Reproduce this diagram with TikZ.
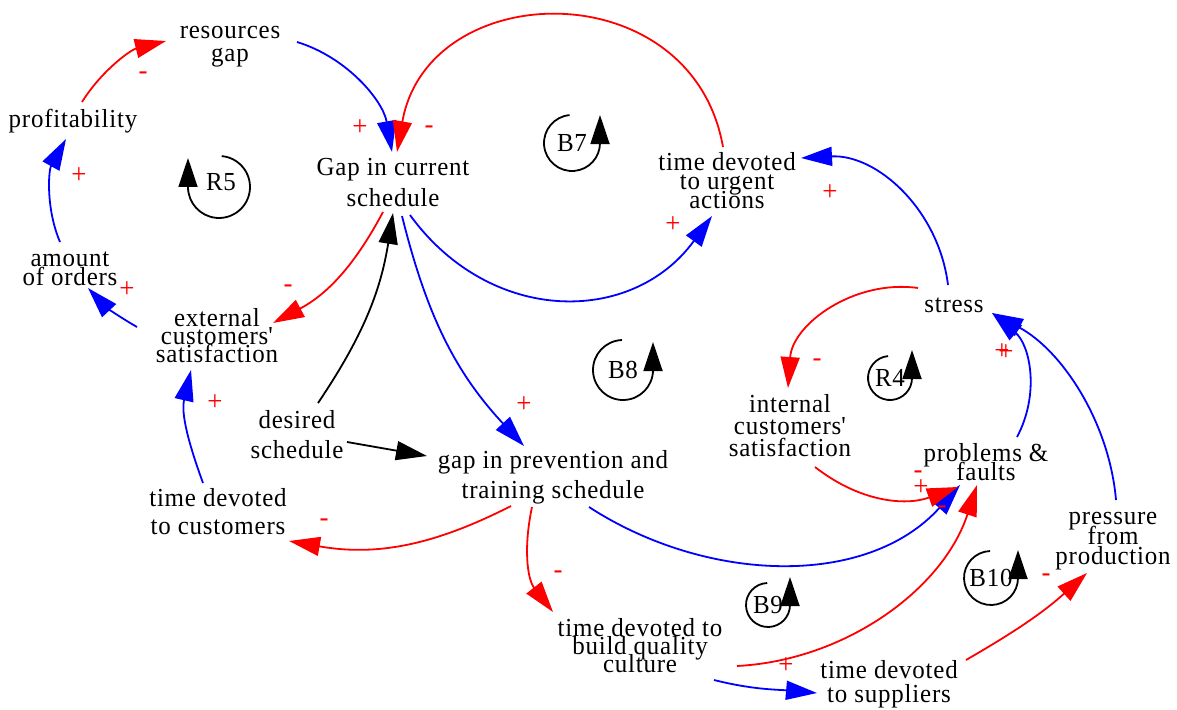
\documentclass[tikz,border=0pt]{standalone}
\usepackage{fontspec}
\setmainfont{Liberation Serif}[LetterSpace=3,FakeStretch=0.96]
\usetikzlibrary{arrows.meta}
\definecolor{lnkred}{RGB}{255,0,0}
\definecolor{lnkblue}{RGB}{0,0,255}
% variable names: fixed size, tight (overlapping) line spacing
\newcommand\setvarfont[1]{\fontsize{26}{#1}\selectfont\lineskiplimit=-100pt\lineskip=0pt}
\tikzset{
  var/.style={inner sep=0pt, align=center, font={\setvarfont{#1}}},
  var/.default=20,
  sign/.style={inner sep=0pt, text=lnkred, font={\fontsize{28}{28}\selectfont}},
  tipped/.style={line width=1.8pt, -{Triangle[length=31pt,width=19pt]}},
  redlink/.style={tipped, lnkred},
  bluelink/.style={tipped, lnkblue},
  blacklink/.style={tipped, black},
  looparrow/.style={line width=1.8pt, black, -{Triangle[length=29pt,width=19pt]}}
}
\begin{document}
\begin{tikzpicture}[x=1pt,y=1pt]
\useasboundingbox (0,-709) rectangle (1177,0);

% ---------- variables ----------
\node[var=23] (resgap) at (230,-47) {resources\\gap};
\node[var] (profit) at (73,-121) {profitability};
\node[var=19] (amount) at (70,-269) {amount\\of orders};
\node[var=31] (gapcur) at (393,-183) {Gap in current\\schedule};
\node[var=19] (urgent) at (727,-181) {time devoted\\to urgent\\actions};
\node[var=18] (extsat) at (217,-336) {external\\customers\textquotesingle\\satisfaction};
\node[var] (stress) at (954,-305) {stress};
\node[var=22] (intsat) at (790,-426) {internal\\customers\textquotesingle\\satisfaction};
\node[var=30] (desired) at (297,-435) {desired\\schedule};
\node[var=30] (gapprev) at (553,-477) {gap in prevention and\\training schedule};
\node[var=19] (problems) at (986,-462) {problems \&\\faults};
\node[var=28] (custtime) at (218,-512) {time devoted\\to customers};
\node[var=20] (pressure) at (1113,-541) {pressure\\from\\production};
\node[var=18] (culture) at (640,-646) {time devoted to\\build quality\\culture};
\node[var=24] (suppliers) at (889,-684) {time devoted\\to suppliers};

% ---------- loop markers ----------
\node[var] (r5) at (221,-182) {R5};
\node[var] (b7) at (572,-143) {B7};
\node[var] (b8) at (623,-370) {B8};
\node[var] (r4) at (890,-378) {R4};
\node[var] (b9) at (768,-605) {B9};
\node[var] (b10) at (991,-578) {B10};

\draw[looparrow] ([shift={(0.7,25.9)}]r5.center) arc[start angle=85, end angle=-180, radius=31] -- ++(0,29);
\draw[looparrow] ([shift={(95:28)}]b7.center) arc[start angle=95, end angle=360, radius=28] -- ++(0,28);
\draw[looparrow] ([shift={(92:30)}]b8.center) arc[start angle=92, end angle=360, radius=30] -- ++(0,28);
\draw[looparrow] ([shift={(95:22)}]r4.center) arc[start angle=95, end angle=360, radius=22] -- ++(0,28);
\draw[looparrow] ([shift={(92:22)}]b9.center) arc[start angle=92, end angle=360, radius=22] -- ++(0,28);
\draw[looparrow] ([shift={(92:27)}]b10.center) arc[start angle=92, end angle=360, radius=27] -- ++(0,28);

% ---------- causal links ----------
\draw[redlink] ([shift={(9,19)}]profit.center) to[out=58,in=194,looseness=.9] ([shift={(-64,6)}]resgap.center);
\draw[bluelink] ([shift={(67,5)}]resgap.center) to[out=-17,in=100,looseness=.92] ([shift={(-1,31)}]gapcur.center);
\draw[redlink] ([shift={(-4,34)}]urgent.center) to[out=100,in=80,looseness=1.4] ([shift={(4,31)}]gapcur.center);
\draw[bluelink] ([shift={(17,-32)}]gapcur.center) to[out=-54,in=234,looseness=1.15] ([shift={(-15,-35)}]urgent.center);
\draw[bluelink] ([shift={(-10,27)}]amount.center) to[out=113,in=241,looseness=.9] ([shift={(-7,-18)}]profit.center);
\draw[bluelink] ([shift={(-80,9)}]extsat.center) to[out=150,in=-47] ([shift={(18,-19)}]amount.center);
\draw[redlink] ([shift={(-10,-29)}]gapcur.center) to[out=242,in=28] ([shift={(56,13)}]extsat.center);
\draw[blacklink] ([shift={(21,32)}]desired.center) to[out=56,in=261] ([shift={(0,-30)}]gapcur.center);
\draw[blacklink] ([shift={(50,-7)}]desired.center) -- ([shift={(-126,21)}]gapprev.center);
\draw[bluelink] ([shift={(9,-33)}]gapcur.center) to[out=-76,in=133] ([shift={(-29,31)}]gapprev.center);
\draw[bluelink] ([shift={(-15,29)}]custtime.center) to[out=110,in=257] ([shift={(-26,-34)}]extsat.center);
\draw[redlink] ([shift={(-42,-29)}]gapprev.center) to[out=207,in=-10] ([shift={(71,-29)}]custtime.center);
\draw[redlink] ([shift={(-21,-30)}]gapprev.center) to[out=-102,in=128] ([shift={(-87,34)}]culture.center);
\draw[bluelink] ([shift={(36,-30)}]gapprev.center) to[out=-33,in=228,looseness=.96] ([shift={(-26,-23)}]problems.center);
\draw[bluelink] ([shift={(31,25)}]problems.center) to[out=62,in=320] ([shift={(38,-8)}]stress.center);
\draw[bluelink] ([shift={(3,41)}]pressure.center) to[out=95,in=332,looseness=.9] ([shift={(38,-8)}]stress.center);
\draw[bluelink] ([shift={(-6,20)}]stress.center) to[out=97,in=3] ([shift={(74,23)}]urgent.center);
\draw[redlink] ([shift={(-36,17)}]stress.center) to[out=172,in=86] ([shift={(-2,38)}]intsat.center);
\draw[redlink] ([shift={(25,-41)}]intsat.center) to[out=-38,in=200] ([shift={(-28,-25)}]problems.center);
\draw[redlink] ([shift={(97,-20)}]culture.center) to[out=3,in=252,looseness=.93] ([shift={(-9,-23)}]problems.center);
\draw[bluelink] ([shift={(74,-34)}]culture.center) to[out=-14,in=175] ([shift={(-72,-9)}]suppliers.center);
\draw[redlink] ([shift={(77,24)}]suppliers.center) to[out=30,in=222] ([shift={(-26,-32)}]pressure.center);

% ---------- link polarities ----------
\node[sign] (s1) at (143,-76) {-};
\node[sign] (s2) at (360,-128) {+};
\node[sign] (s3) at (429,-130) {-};
\node[sign] (s4) at (673,-225) {+};
\node[sign] (s5) at (79,-176) {+};
\node[sign] (s6) at (127,-290) {+};
\node[sign] (s7) at (288,-289) {-};
\node[sign] (s8) at (524,-405) {+};
\node[sign] (s9) at (215,-403) {+};
\node[sign] (s10) at (324,-523) {-};
\node[sign] (s11) at (558,-575) {-};
\node[sign] (s12) at (830,-193) {+};
\node[sign] (s13) at (817,-363) {-};
\node[sign] (s14) at (1002,-352) {+};
\node[sign] (s15) at (1006,-353) {+};
\node[sign] (s16) at (918,-475) {-};
\node[sign] (s17) at (921,-488) {+};
\node[sign] (s18) at (942,-510) {-};
\node[sign] (s19) at (786,-666) {+};
\node[sign] (s20) at (1046,-578) {-};
\end{tikzpicture}
\end{document}
